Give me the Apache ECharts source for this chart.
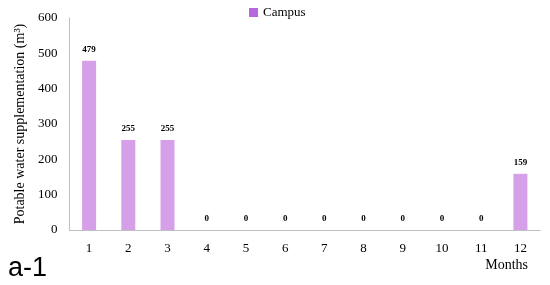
<!DOCTYPE html>
<html>
<head>
<meta charset="utf-8">
<script src="https://cdn.jsdelivr.net/npm/echarts@6/dist/echarts.min.js"></script>
<style>html,body{margin:0;padding:0;background:#fff}#c{width:550px;height:285px}</style>
</head>
<body>
<div id="c"></div>
<script>
const months = ['1','2','3','4','5','6','7','8','9','10','11','12'];
const campus = [479, 255, 255, 0, 0, 0, 0, 0, 0, 0, 0, 159];
const yTicks = [0, 100, 200, 300, 400, 500, 600];

const chart = echarts.init(document.getElementById('c'));
chart.setOption({
  animation: false,
  legend: {
    data: [{name: 'Campus', itemStyle: {color: '#b967dc'}}],
    top: 1, left: 244,
    itemWidth: 9, itemHeight: 9, itemGap: 5,
    icon: 'rect',
    textStyle: {fontFamily: 'Liberation Serif', fontSize: 13, color: '#000'}
  },
  grid: {left: 69.5, right: 10, top: 18, bottom: 55},
  xAxis: {
    type: 'category', data: months,
    axisLine: {lineStyle: {color: '#bfbfbf', width: 1}},
    axisTick: {show: false},
    axisLabel: {fontFamily: 'Liberation Serif', fontSize: 13, color: '#000', margin: 12}
  },
  yAxis: {
    type: 'value', min: yTicks[0], max: yTicks[yTicks.length-1], interval: 100,
    name: 'Potable water supplementation (m\u00b3)',
    nameLocation: 'middle', nameGap: 38, nameRotate: 90,
    nameTextStyle: {fontFamily: 'Liberation Serif', fontSize: 14, color: '#000'},
    axisLine: {show: true, lineStyle: {color: '#bfbfbf', width: 1}},
    axisTick: {show: false},
    splitLine: {show: false},
    axisLabel: {fontFamily: 'Liberation Serif', fontSize: 13, color: '#000', margin: 12}
  },
  series: [{
    name: 'Campus', type: 'bar', data: campus, barWidth: 14,
    itemStyle: {color: '#d6a0e8'},
    label: {show: true, position: 'top', distance: 7,
      fontFamily: 'Liberation Serif', fontSize: 9, fontWeight: 'bold', color: '#000'}
  }],
  graphic: [
    {type: 'text', left: 8, top: 255, style: {text: 'a-1', fontFamily: 'Liberation Sans', fontSize: 27, fill: '#000'}},
    {type: 'text', right: 22, top: 258, style: {text: 'Months', fontFamily: 'Liberation Serif', fontSize: 14, fill: '#000'}}
  ]
});
</script>
</body>
</html>
